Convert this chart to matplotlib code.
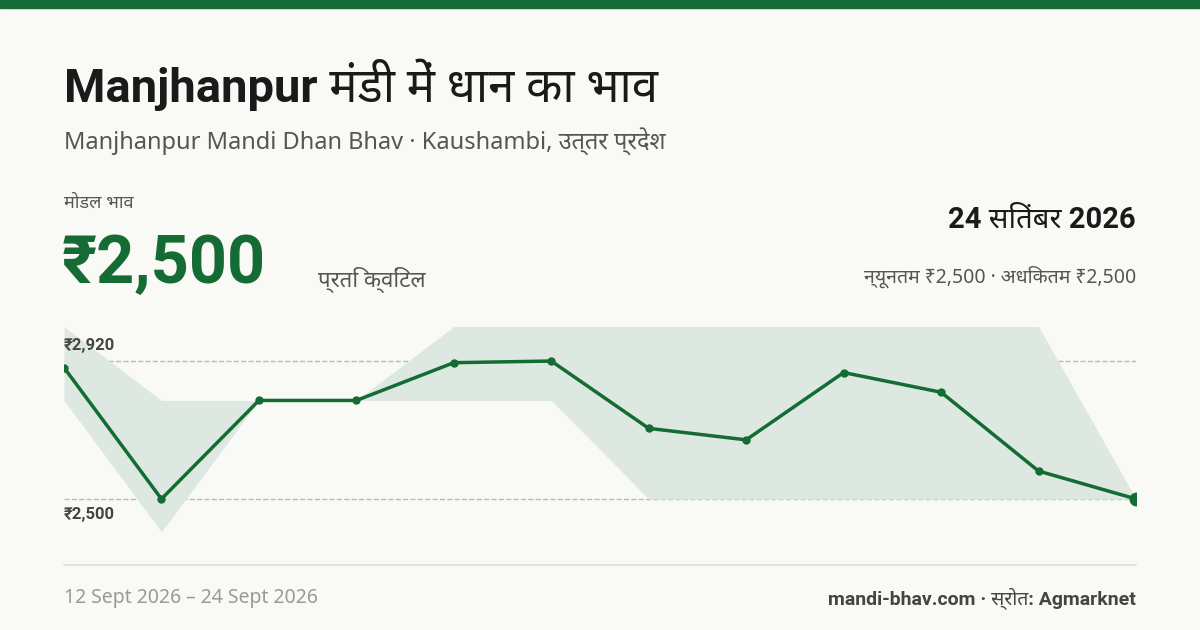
import matplotlib
matplotlib.use("Agg")
import matplotlib.pyplot as plt

plt.rcParams['font.family'] = ['Noto Sans', 'DejaVu Sans']
BOLD = ['Roboto', 'Noto Sans', 'DejaVu Sans']

# data
dates = ['12 Sept', '13 Sept', '14 Sept', '15 Sept', '16 Sept', '17 Sept',
         '18 Sept', '19 Sept', '20 Sept', '21 Sept', '22 Sept', '24 Sept']
modal = [2900, 2500, 2800, 2800, 2915, 2920, 2715, 2680, 2885, 2825, 2585, 2500]
low = [2800, 2400, 2800, 2800, 2800, 2800, 2500, 2500, 2500, 2500, 2500, 2500]
high = [3025, 2800, 2800, 2800, 3025, 3025, 3025, 3025, 3025, 3025, 3025, 2500]

green = '#146b34'
bg = '#f9f9f5'
W, H = 1200, 630

fig = plt.figure(figsize=(12, 6.3), dpi=100, facecolor=bg)

def fx(x): return x / W
def fy(y): return 1 - y / H

# top bar and footer rule
fig.patches.append(plt.Rectangle((0, fy(8)), 1, 8 / H, transform=fig.transFigure, color=green))
fig.add_artist(plt.Line2D([fx(64), fx(1136)], [fy(565), fy(565)], color='#dddddd', lw=1.2))

fig.text(fx(64), fy(85), 'Manjhanpur मंडी में धान का भाव', fontsize=34, fontweight='bold',
         family=BOLD, color='#1a1a1a', va='center')
fig.text(fx(64), fy(142), 'Manjhanpur Mandi Dhan Bhav · Kaushambi, उत्तर प्रदेश', fontsize=17,
         color='#555555', va='center')
fig.text(fx(64), fy(203), 'मोडल भाव', fontsize=13, color='#555555', va='center')
fig.text(fx(62), fy(265), '₹2,500', fontsize=48, fontweight='bold', family=BOLD,
         color=green, va='center')
fig.text(fx(318), fy(280), 'प्रति क्विंटल', fontsize=16, color='#555555', va='center')
fig.text(fx(1136), fy(220), '24 सितंबर 2026', fontsize=21, fontweight='bold', family=BOLD,
         color='#1a1a1a', va='center', ha='right')
fig.text(fx(1136), fy(277), 'न्यूनतम ₹2,500 · अधिकतम ₹2,500', fontsize=14, color='#555555',
         va='center', ha='right')
fig.text(fx(64), fy(598), '12 Sept 2026 – 24 Sept 2026', fontsize=14, color='#999999', va='center')
fig.text(fx(1136), fy(598), 'mandi-bhav.com · स्रोत: Agmarknet', fontsize=14, fontweight='bold',
         family=BOLD, color='#444444', va='center', ha='right')

# chart area
ax = fig.add_axes([fx(64), fy(540), (1136 - 64) / W, 220 / H])
ax.set_facecolor('none')
x = list(range(len(modal)))
ax.fill_between(x, low, high, color='#dce8e0', lw=0)
ax.plot(x, modal, color=green, lw=2.5, marker='o', markersize=5)
ax.plot(x[-1], modal[-1], 'o', color=green, markersize=9)
for v in (2920, 2500):
    ax.axhline(v, color='#bbbbbb', ls='--', lw=1, zorder=0)
ax.text(0, 2920 + 25, '₹2,920', fontsize=12, fontweight='bold', family=BOLD,
        color='#444444', va='bottom')
ax.text(0, 2500 - 25, '₹2,500', fontsize=12, fontweight='bold', family=BOLD,
        color='#444444', va='top')
ax.set_xlim(0, 11)
ax.set_ylim(2375, 3045)
ax.axis('off')

fig.savefig('out.png', dpi=100, facecolor=bg)
